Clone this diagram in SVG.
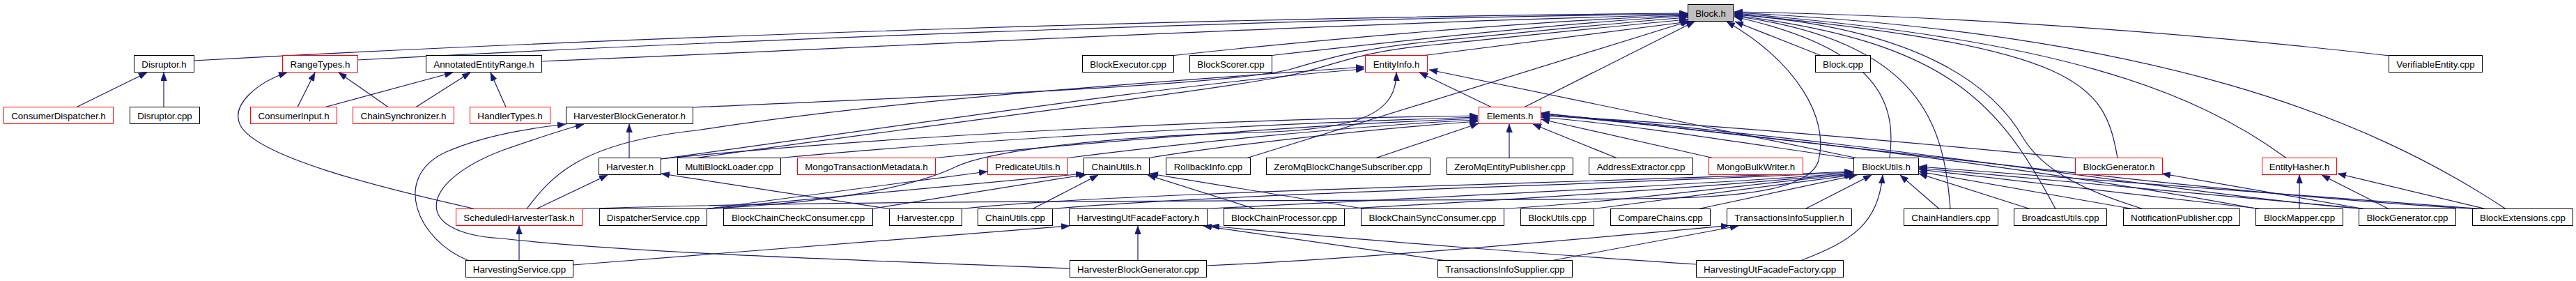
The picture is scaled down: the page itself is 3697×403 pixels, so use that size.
<svg xmlns="http://www.w3.org/2000/svg" width="3697" height="403" viewBox="0 0 3697 403">
<style>
.node rect{fill:#ffffff;stroke:#000000;stroke-width:1}
.node.red rect{stroke:#ff0000}
.node.root rect{fill:#bfbfbf}
.node text{font-family:"Liberation Sans",Arial,Helvetica,sans-serif;font-size:13.33px;text-anchor:middle;fill:#000000}
#edges path{fill:none;stroke:#191970;stroke-width:1.2;marker-end:url(#arr)}
</style>
<defs>
<marker id="arr" viewBox="0 0 12 9" markerWidth="12" markerHeight="9" refX="12" refY="4.5" orient="auto" markerUnits="userSpaceOnUse"><path d="M0,0 L12,4.5 L0,9 z" fill="#191970" stroke="#191970" stroke-width="0.5"/></marker>
</defs>
<rect x="0" y="0" width="3697" height="403" fill="#ffffff"/>
<g id="edges">
<path d="M278,87 C900,52 1800,24 2422,19"/>
<path d="M513,86 C1000,60 1800,27 2422,20"/>
<path d="M777,88 C1300,66 1900,34 2422,21"/>
<path d="M1680,80 C1900,56 2200,30 2422,22"/>
<path d="M1820,80 C2000,60 2250,32 2422,23"/>
<path d="M2040,80 L2424,31"/>
<path d="M2188,153.5 L2432,31"/>
<path d="M1790,226.5 L2425,30"/>
<path d="M994,154 C1400,136 1750,122 1850,100 C1900,85 1950,70 2050,60 C2200,45 2350,30 2422,25"/>
<path d="M1000,226.5 C1400,170 1780,125 1860,106 C1920,92 1950,74 2060,64 C2200,50 2350,34 2422,28"/>
<path d="M2712,226.5 C2722,150 2700,70 2489,24"/>
<path d="M2799,299.5 C2790,180 2760,60 2489,23"/>
<path d="M2950,299.5 C2870,150 2800,60 2489,22"/>
<path d="M3075,299.5 C2980,270 2930,240 2905,200 C2860,120 2750,40 2489,21"/>
<path d="M3039,226.5 C3020,120 2990,68 2489,20"/>
<path d="M3281,226.5 C3150,130 2950,55 2489,19"/>
<path d="M3596,299.5 C3400,170 3100,48 2489,18"/>
<path d="M3430,80 C3150,48 2800,22 2489,17"/>
<path d="M2613,79.5 L2490,31"/>
<path d="M835,299.5 C1300,284 2100,290 2400,284 C2530,281 2600,265 2610,230 C2625,170 2580,90 2478,31"/>
<path d="M2140,153.5 L2037,104"/>
<path d="M2664,226.5 L2051,100"/>
<path d="M1014,299.5 C1200,290 1310,268 1370,240 C1420,215 1600,195 1800,190 C1960,186 2004,160 2004,104"/>
<path d="M948,228 C1300,180 1700,118 1958,99"/>
<path d="M756,299.5 C790,255 830,205 1000,187 C1300,140 1700,115 1958,96"/>
<path d="M948,228 C1300,192 1800,170 2121,166"/>
<path d="M1120,226.5 C1400,200 1800,178 2121,168"/>
<path d="M1342,226.5 C1600,200 1900,178 2121,170"/>
<path d="M1532,226.5 C1700,205 1950,180 2121,172"/>
<path d="M1649,226.5 C1750,210 1950,186 2121,174"/>
<path d="M1975,226.5 L2122,177"/>
<path d="M2166,226.5 L2166,178"/>
<path d="M2320,226.5 L2200,178"/>
<path d="M2458,226.5 L2212,171"/>
<path d="M2662,228 C2500,205 2350,180 2212,168"/>
<path d="M2980,227 C2700,200 2400,175 2212,166"/>
<path d="M3240,299.5 C3000,255 2650,205 2212,164"/>
<path d="M3390,299.5 C3100,275 2800,215 2212,163"/>
<path d="M3552,299.5 C3200,280 2750,220 2212,162"/>
<path d="M1380,299.5 C1600,275 2300,262 2659,246"/>
<path d="M1510,299.5 C1750,278 2300,265 2659,247"/>
<path d="M1732,299.5 C2000,285 2400,268 2659,248"/>
<path d="M1929,299.5 C2200,285 2450,268 2659,249"/>
<path d="M2158,299.5 C2350,287 2500,265 2659,250"/>
<path d="M2287,299.5 L2660,251"/>
<path d="M2438,299.5 L2665,251"/>
<path d="M2591,299.5 L2686,251"/>
<path d="M2585,373.5 C2660,345 2695,320 2702,251"/>
<path d="M2783,299.5 L2727,251"/>
<path d="M2913,299.5 L2754,249"/>
<path d="M3060,299.5 L2754,246"/>
<path d="M3245,299.5 L2754,243"/>
<path d="M3395,299.5 L2754,241"/>
<path d="M3560,299.5 L2754,239"/>
<path d="M1482,299.5 L1576,251"/>
<path d="M1251,299.5 L1560,250"/>
<path d="M1014,299.5 L1556,249"/>
<path d="M1801,299.5 L1647,251"/>
<path d="M1958,299.5 L1650,249"/>
<path d="M1014,299.5 L1417,246"/>
<path d="M903,226.5 L903,178"/>
<path d="M770,299.5 L872,251"/>
<path d="M1276,299.5 L949,249"/>
<path d="M672,373.5 C600,345 560,255 640,218 C700,192 770,183 812,178"/>
<path d="M1535,385 C1200,372 900,362 720,342 C590,335 600,262 720,216 C780,195 815,184 838,178"/>
<path d="M745,373.5 L745,324"/>
<path d="M681,299.5 C540,268 370,225 345,180 C330,150 370,118 412,104"/>
<path d="M427,153.5 L452,104"/>
<path d="M557,153.5 L486,104"/>
<path d="M467,153.5 L650,104"/>
<path d="M597,153.5 L675,104"/>
<path d="M726,153.5 L704,104"/>
<path d="M110,153.5 L211,104"/>
<path d="M235,153.5 L235,104"/>
<path d="M822,380 L1535,324"/>
<path d="M1633,373.5 L1633,324"/>
<path d="M2073,373.5 L1727,324"/>
<path d="M2434,379 C2300,371 1900,340 1738,324"/>
<path d="M1731,381 C1950,372 2300,340 2482,323.5"/>
<path d="M2228,373.5 L2495,324"/>
<path d="M3392,299.5 L3103,249"/>
<path d="M3300,299.5 L3300,251"/>
<path d="M3428,299.5 L3332,251"/>
<path d="M3567,299.5 L3355,249"/>
</g>
<g id="n_Block_h" class="node root"><rect x="2422.5" y="6.5" width="65" height="24"/><text x="2455" y="23.5">Block.h</text></g>
<g id="n_Disruptor_h" class="node"><rect x="192.5" y="79.5" width="86" height="24"/><text x="235.5" y="96.5">Disruptor.h</text></g>
<g id="n_RangeTypes_h" class="node red"><rect x="405.5" y="79.5" width="108" height="24"/><text x="459.5" y="96.5">RangeTypes.h</text></g>
<g id="n_AnnotatedEntityRange_h" class="node"><rect x="611.5" y="79.5" width="166" height="24"/><text x="694.5" y="96.5">AnnotatedEntityRange.h</text></g>
<g id="n_BlockExecutor_cpp" class="node"><rect x="1553.5" y="79.5" width="131" height="24"/><text x="1619" y="96.5">BlockExecutor.cpp</text></g>
<g id="n_BlockScorer_cpp" class="node"><rect x="1707.5" y="79.5" width="118" height="24"/><text x="1766.5" y="96.5">BlockScorer.cpp</text></g>
<g id="n_EntityInfo_h" class="node red"><rect x="1959.5" y="79.5" width="89" height="24"/><text x="2004" y="96.5">EntityInfo.h</text></g>
<g id="n_Block_cpp" class="node"><rect x="2605.5" y="79.5" width="79" height="24"/><text x="2645" y="96.5">Block.cpp</text></g>
<g id="n_VerifiableEntity_cpp" class="node"><rect x="3428.5" y="79.5" width="134" height="24"/><text x="3495.5" y="96.5">VerifiableEntity.cpp</text></g>
<g id="n_ConsumerDispatcher_h" class="node red"><rect x="5.5" y="153.5" width="157" height="24"/><text x="84" y="170.5">ConsumerDispatcher.h</text></g>
<g id="n_Disruptor_cpp" class="node"><rect x="186.5" y="153.5" width="100" height="24"/><text x="236.5" y="170.5">Disruptor.cpp</text></g>
<g id="n_ConsumerInput_h" class="node red"><rect x="359.5" y="153.5" width="124" height="24"/><text x="421.5" y="170.5">ConsumerInput.h</text></g>
<g id="n_ChainSynchronizer_h" class="node red"><rect x="506.5" y="153.5" width="145" height="24"/><text x="579" y="170.5">ChainSynchronizer.h</text></g>
<g id="n_HandlerTypes_h" class="node red"><rect x="674.5" y="153.5" width="115" height="24"/><text x="732" y="170.5">HandlerTypes.h</text></g>
<g id="n_HarvesterBlockGenerator_h" class="node"><rect x="812.5" y="153.5" width="182" height="24"/><text x="903.5" y="170.5">HarvesterBlockGenerator.h</text></g>
<g id="n_Elements_h" class="node red"><rect x="2122.5" y="153.5" width="89" height="24"/><text x="2167" y="170.5">Elements.h</text></g>
<g id="n_Harvester_h" class="node"><rect x="859.5" y="226.5" width="89" height="24"/><text x="904" y="243.5">Harvester.h</text></g>
<g id="n_MultiBlockLoader_cpp" class="node"><rect x="972.5" y="226.5" width="148" height="24"/><text x="1046.5" y="243.5">MultiBlockLoader.cpp</text></g>
<g id="n_MongoTransactionMetadata_h" class="node red"><rect x="1144.5" y="226.5" width="198" height="24"/><text x="1243.5" y="243.5">MongoTransactionMetadata.h</text></g>
<g id="n_PredicateUtils_h" class="node red"><rect x="1417.5" y="226.5" width="115" height="24"/><text x="1475" y="243.5">PredicateUtils.h</text></g>
<g id="n_ChainUtils_h" class="node"><rect x="1555.5" y="226.5" width="94" height="24"/><text x="1602.5" y="243.5">ChainUtils.h</text></g>
<g id="n_RollbackInfo_cpp" class="node"><rect x="1673.5" y="226.5" width="121" height="24"/><text x="1734" y="243.5">RollbackInfo.cpp</text></g>
<g id="n_ZeroMqBlockChangeSubscriber_cpp" class="node"><rect x="1817.5" y="226.5" width="235" height="24"/><text x="1935" y="243.5">ZeroMqBlockChangeSubscriber.cpp</text></g>
<g id="n_ZeroMqEntityPublisher_cpp" class="node"><rect x="2076.5" y="226.5" width="181" height="24"/><text x="2167" y="243.5">ZeroMqEntityPublisher.cpp</text></g>
<g id="n_AddressExtractor_cpp" class="node"><rect x="2280.5" y="226.5" width="149" height="24"/><text x="2355" y="243.5">AddressExtractor.cpp</text></g>
<g id="n_MongoBulkWriter_h" class="node red"><rect x="2452.5" y="226.5" width="135" height="24"/><text x="2520" y="243.5">MongoBulkWriter.h</text></g>
<g id="n_BlockUtils_h" class="node"><rect x="2660.5" y="226.5" width="93" height="24"/><text x="2707" y="243.5">BlockUtils.h</text></g>
<g id="n_BlockGenerator_h" class="node red"><rect x="2978.5" y="226.5" width="125" height="24"/><text x="3041" y="243.5">BlockGenerator.h</text></g>
<g id="n_EntityHasher_h" class="node red"><rect x="3246.5" y="226.5" width="107" height="24"/><text x="3300" y="243.5">EntityHasher.h</text></g>
<g id="n_ScheduledHarvesterTask_h" class="node red"><rect x="654.5" y="299.5" width="181" height="24"/><text x="745" y="316.5">ScheduledHarvesterTask.h</text></g>
<g id="n_DispatcherService_cpp" class="node"><rect x="860.5" y="299.5" width="154" height="24"/><text x="937.5" y="316.5">DispatcherService.cpp</text></g>
<g id="n_BlockChainCheckConsumer_cpp" class="node"><rect x="1038.5" y="299.5" width="214" height="24"/><text x="1145.5" y="316.5">BlockChainCheckConsumer.cpp</text></g>
<g id="n_Harvester_cpp" class="node"><rect x="1276.5" y="299.5" width="104" height="24"/><text x="1328.5" y="316.5">Harvester.cpp</text></g>
<g id="n_ChainUtils_cpp" class="node"><rect x="1403.5" y="299.5" width="107" height="24"/><text x="1457" y="316.5">ChainUtils.cpp</text></g>
<g id="n_HarvestingUtFacadeFactory_h" class="node"><rect x="1534.5" y="299.5" width="198" height="24"/><text x="1633.5" y="316.5">HarvestingUtFacadeFactory.h</text></g>
<g id="n_BlockChainProcessor_cpp" class="node"><rect x="1756.5" y="299.5" width="173" height="24"/><text x="1843" y="316.5">BlockChainProcessor.cpp</text></g>
<g id="n_BlockChainSyncConsumer_cpp" class="node"><rect x="1953.5" y="299.5" width="205" height="24"/><text x="2056" y="316.5">BlockChainSyncConsumer.cpp</text></g>
<g id="n_BlockUtils_cpp" class="node"><rect x="2182.5" y="299.5" width="105" height="24"/><text x="2235" y="316.5">BlockUtils.cpp</text></g>
<g id="n_CompareChains_cpp" class="node"><rect x="2311.5" y="299.5" width="143" height="24"/><text x="2383" y="316.5">CompareChains.cpp</text></g>
<g id="n_TransactionsInfoSupplier_h" class="node"><rect x="2478.5" y="299.5" width="179" height="24"/><text x="2568" y="316.5">TransactionsInfoSupplier.h</text></g>
<g id="n_ChainHandlers_cpp" class="node"><rect x="2732.5" y="299.5" width="135" height="24"/><text x="2800" y="316.5">ChainHandlers.cpp</text></g>
<g id="n_BroadcastUtils_cpp" class="node"><rect x="2890.5" y="299.5" width="133" height="24"/><text x="2957" y="316.5">BroadcastUtils.cpp</text></g>
<g id="n_NotificationPublisher_cpp" class="node"><rect x="3047.5" y="299.5" width="167" height="24"/><text x="3131" y="316.5">NotificationPublisher.cpp</text></g>
<g id="n_BlockMapper_cpp" class="node"><rect x="3237.5" y="299.5" width="125" height="24"/><text x="3300" y="316.5">BlockMapper.cpp</text></g>
<g id="n_BlockGenerator_cpp" class="node"><rect x="3385.5" y="299.5" width="139" height="24"/><text x="3455" y="316.5">BlockGenerator.cpp</text></g>
<g id="n_BlockExtensions_cpp" class="node"><rect x="3548.5" y="299.5" width="144" height="24"/><text x="3620.5" y="316.5">BlockExtensions.cpp</text></g>
<g id="n_HarvestingService_cpp" class="node"><rect x="668.5" y="373.5" width="154" height="24"/><text x="745.5" y="390.5">HarvestingService.cpp</text></g>
<g id="n_HarvesterBlockGenerator_cpp" class="node"><rect x="1535.5" y="373.5" width="196" height="24"/><text x="1633.5" y="390.5">HarvesterBlockGenerator.cpp</text></g>
<g id="n_TransactionsInfoSupplier_cpp" class="node"><rect x="2063.5" y="373.5" width="193" height="24"/><text x="2160" y="390.5">TransactionsInfoSupplier.cpp</text></g>
<g id="n_HarvestingUtFacadeFactory_cpp" class="node"><rect x="2434.5" y="373.5" width="211" height="24"/><text x="2540" y="390.5">HarvestingUtFacadeFactory.cpp</text></g>
</svg>
